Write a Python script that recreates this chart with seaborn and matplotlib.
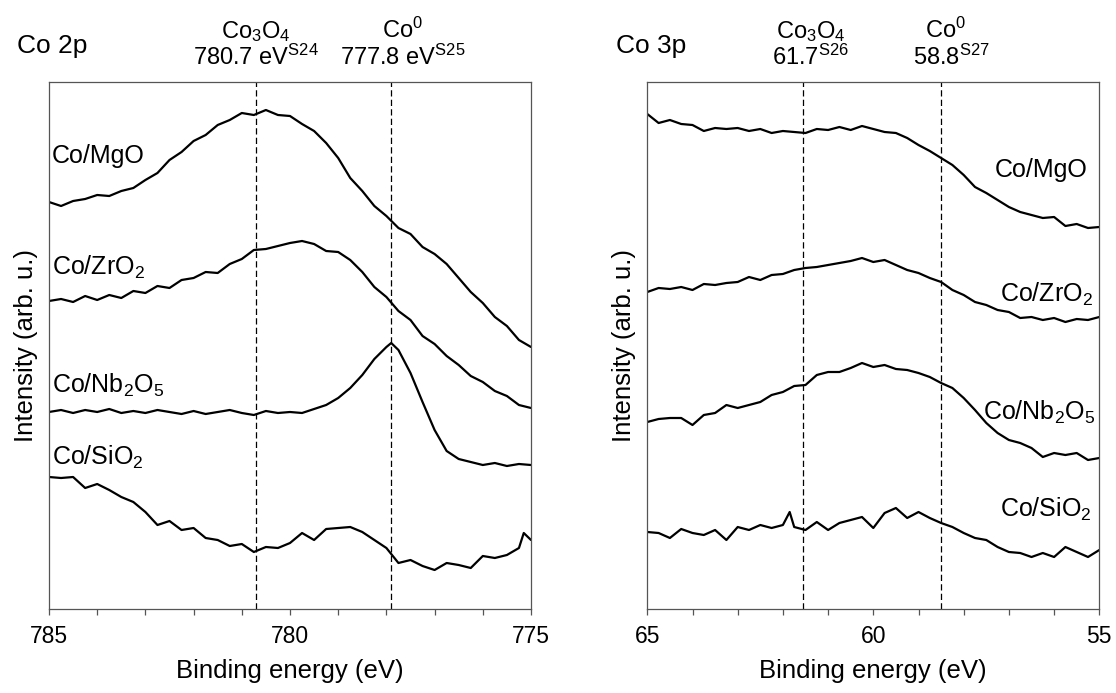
import numpy as np
import pandas as pd
import matplotlib
matplotlib.use("Agg")
import matplotlib.pyplot as plt
import matplotlib.transforms as mtransforms
from matplotlib.ticker import MultipleLocator, NullLocator
import seaborn as sns

# ---------------- data ----------------
samples = ["Co/MgO", "Co/ZrO2", "Co/Nb2O5", "Co/SiO2"]

# Co 2p binding-energy grid (eV)
E2P = [785.0, 784.75, 784.5, 784.25, 784.0, 783.75, 783.5, 783.25, 783.0, 782.75,
       782.5, 782.25, 782.0, 781.75, 781.5, 781.25, 781.0, 780.75, 780.5, 780.25,
       780.0, 779.75, 779.5, 779.25, 779.0, 778.75, 778.5, 778.25, 778.0, 777.75,
       777.5, 777.25, 777.0, 776.75, 776.5, 776.25, 776.0, 775.75, 775.5, 775.25,
       775.0]
E2P_nb = E2P[:29] + [777.9] + E2P[29:]
E2P_si = E2P[:40] + [775.15] + E2P[40:]

co2p_mgo = [407, 403, 408, 410, 414, 413, 418, 421, 429, 436, 449, 457, 468, 474, 484,
            489, 496, 494, 499, 494, 493, 485, 478, 466, 451, 431, 418, 403, 393, 381,
            375, 362, 355, 345, 331, 317, 306, 292, 283, 269, 262]
co2p_zro2 = [308, 310, 307, 313, 309, 314, 311, 318, 316, 323, 321, 329, 331, 337, 336,
             345, 350, 359, 360, 363, 366, 368, 365, 358, 357, 349, 337, 322, 312, 298,
             289, 273, 265, 253, 244, 233, 227, 218, 213, 204, 201]
co2p_nb2o5 = [197, 199, 196, 199, 197, 200, 196, 198, 196, 199, 197, 195, 198, 195, 197,
              199, 196, 194, 198, 196, 197, 196, 200, 204, 211, 221, 234, 250, 262, 266,
              259, 236, 207, 179, 158, 150, 147, 144, 146, 143, 145, 144]
co2p_sio2 = [132, 131, 132, 121, 125, 119, 112, 107, 97, 84, 88, 79, 81, 71, 69,
             63, 65, 57, 62, 61, 66, 76, 69, 80, 81, 82, 77, 69, 61, 46,
             49, 43, 39, 46, 44, 41, 53, 51, 54, 61, 76, 69]

# Co 3p binding-energy grid (eV)
E3P = [65.0, 64.75, 64.5, 64.25, 64.0, 63.75, 63.5, 63.25, 63.0, 62.75,
       62.5, 62.25, 62.0, 61.75, 61.5, 61.25, 61.0, 60.75, 60.5, 60.25,
       60.0, 59.75, 59.5, 59.25, 59.0, 58.75, 58.5, 58.25, 58.0, 57.75,
       57.5, 57.25, 57.0, 56.75, 56.5, 56.25, 56.0, 55.75, 55.5, 55.25,
       55.0]
E3P_si = E3P[:13] + [61.85] + E3P[13:]

co3p_mgo = [495, 486, 489, 485, 484, 478, 481, 480, 481, 478, 480, 476, 478, 477, 476,
            480, 479, 482, 479, 483, 480, 477, 476, 471, 464, 458, 451, 444, 434, 422,
            416, 409, 402, 397, 394, 391, 392, 383, 385, 381, 382]
co3p_zro2 = [317, 321, 320, 322, 319, 325, 324, 326, 327, 332, 329, 334, 335, 339, 341,
             342, 344, 346, 348, 351, 347, 349, 344, 339, 336, 331, 327, 319, 314, 307,
             304, 299, 297, 291, 292, 289, 291, 287, 290, 289, 292]
co3p_nb2o5 = [187, 190, 191, 191, 184, 194, 196, 204, 201, 204, 207, 214, 217, 223, 224,
              234, 237, 237, 241, 246, 242, 244, 240, 239, 236, 232, 226, 221, 211, 199,
              186, 176, 169, 166, 161, 152, 156, 154, 156, 149, 151]
co3p_sio2 = [77, 76, 71, 80, 76, 74, 79, 69, 82, 79, 84, 81, 84, 97, 82,
             79, 87, 79, 86, 89, 92, 81, 96, 101, 91, 97, 91, 86, 82, 76,
             71, 69, 62, 57, 56, 52, 56, 52, 62, 57, 52, 59]

# reference lines (eV)
ref2p = [780.7, 777.9]
ref3p = [61.55, 58.5]

labels_mt = [r"Co/MgO", r"Co/ZrO$_\mathregular{2}$",
             r"Co/Nb$_\mathregular{2}$O$_\mathregular{5}$", r"Co/SiO$_\mathregular{2}$"]


def long_df(pairs):
    frames = []
    for name, (e, y) in zip(samples, pairs):
        frames.append(pd.DataFrame({"eV": e, "I": y, "sample": name}))
    return pd.concat(frames, ignore_index=True)


df2p = long_df([(E2P, co2p_mgo), (E2P, co2p_zro2), (E2P_nb, co2p_nb2o5), (E2P_si, co2p_sio2)])
df3p = long_df([(E3P, co3p_mgo), (E3P, co3p_zro2), (E3P, co3p_nb2o5), (E3P_si, co3p_sio2)])

# ---------------- style ----------------
sns.set_theme(style="white")
plt.rcParams["font.family"] = ["Liberation Sans", "DejaVu Sans"]
plt.rcParams["mathtext.fontset"] = "custom"
plt.rcParams["mathtext.rm"] = "Liberation Sans"
plt.rcParams["mathtext.it"] = "Liberation Sans:italic"
plt.rcParams["mathtext.bf"] = "Liberation Sans:bold"
plt.rcParams["text.color"] = "black"
plt.rcParams["axes.labelcolor"] = "black"
plt.rcParams["xtick.labelcolor"] = "black"

W, H = 1116, 693
fig = plt.figure(figsize=(W / 100, H / 100), dpi=100)
axL = fig.add_axes([49 / W, 1 - 609 / H, 482 / W, 527 / H])
axR = fig.add_axes([647.3 / W, 1 - 609 / H, 452 / W, 527 / H])

spine_c = "#555555"
for ax, df, xlim, refs in [(axL, df2p, (785, 775), ref2p), (axR, df3p, (65, 55), ref3p)]:
    sns.lineplot(data=df, x="eV", y="I", units="sample", estimator=None, sort=False,
                 color="black", lw=1.6, ax=ax)
    for r in refs:
        ax.axvline(r, color="black", lw=0.9, ls=(0, (5, 2.6)), zorder=1)
    ax.set_xlim(*xlim)
    ax.set_ylim(0, 527)
    ax.yaxis.set_major_locator(NullLocator())
    ax.xaxis.set_major_locator(MultipleLocator(5))
    ax.xaxis.set_minor_locator(MultipleLocator(1))
    ax.tick_params(axis="x", which="both", bottom=True, top=False, direction="out",
                   length=4.5, width=0.9, color=spine_c)
    ax.tick_params(axis="x", which="major", labelsize=16.5, pad=7, labelcolor="black")
    for s in ax.spines.values():
        s.set_color(spine_c)
        s.set_linewidth(0.9)
    ax.set_xlabel("Binding energy (eV)", fontsize=18.5, labelpad=8, color="black")
    ax.set_ylabel("Intensity (arb. u.)", fontsize=18.5, labelpad=8, color="black")

# sample labels
left_pos = [0.846, 0.634, 0.410, 0.273]
for lab, yy in zip(labels_mt, left_pos):
    axL.text(0.006, yy, lab, transform=axL.transAxes, ha="left", va="baseline",
             fontsize=18, color="black")
right_pos = [(0.975, 0.820), (0.986, 0.583), (0.990, 0.359), (0.984, 0.175)]
for lab, (xx, yy) in zip(labels_mt, right_pos):
    axR.text(xx, yy, lab, transform=axR.transAxes, ha="right", va="baseline",
             fontsize=18, color="black")

# panel titles
axL.text(-0.066, 1.055, "Co 2p", transform=axL.transAxes, ha="left", va="baseline",
         fontsize=19, color="black")
axR.text(-0.070, 1.055, "Co 3p", transform=axR.transAxes, ha="left", va="baseline",
         fontsize=19, color="black")


# reference annotations
def annot(ax, x1, t1, x2, t2):
    tr = mtransforms.blended_transform_factory(ax.transData, ax.transAxes)
    ax.text(x1, 1.0835, t1, transform=tr, ha="center", va="baseline", fontsize=17, color="black")
    ax.text(x2, 1.032, t2, transform=tr, ha="center", va="baseline", fontsize=17, color="black")


co3o4 = r"Co$_\mathregular{3}$O$_\mathregular{4}$"
co0 = r"Co$^\mathregular{0}$"
annot(axL, 780.71, co3o4, 780.71, r"780.7 eV$^\mathregular{S24}$")
annot(axL, 777.66, co0, 777.66, r"777.8 eV$^\mathregular{S25}$")
annot(axR, 61.38, co3o4, 61.38, r"61.7$^\mathregular{S26}$")
annot(axR, 58.41, co0, 58.28, r"58.8$^\mathregular{S27}$")

fig.savefig("out.png", dpi=100)
